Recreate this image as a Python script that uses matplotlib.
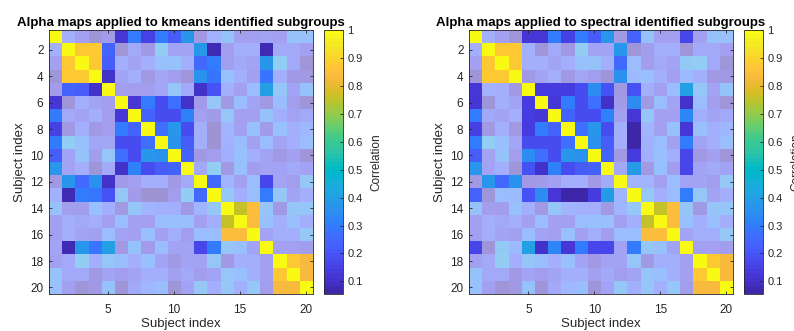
import numpy as np
import matplotlib
matplotlib.use("Agg")
import matplotlib.pyplot as plt
from matplotlib.colors import ListedColormap, Normalize
from matplotlib.cm import ScalarMappable

plt.rcParams['font.family'] = ['Liberation Sans', 'DejaVu Sans']

# MATLAB parula (64 entries)
PARULA = [
    [0.2422, 0.1504, 0.6603], [0.2504, 0.1650, 0.7076], [0.2578, 0.1818, 0.7511], [0.2647, 0.1978, 0.7952],
    [0.2706, 0.2147, 0.8364], [0.2751, 0.2342, 0.8710], [0.2783, 0.2559, 0.8991], [0.2803, 0.2782, 0.9221],
    [0.2813, 0.3006, 0.9414], [0.2810, 0.3228, 0.9579], [0.2795, 0.3447, 0.9717], [0.2760, 0.3667, 0.9829],
    [0.2699, 0.3892, 0.9906], [0.2602, 0.4123, 0.9952], [0.2440, 0.4358, 0.9988], [0.2206, 0.4603, 0.9973],
    [0.1963, 0.4847, 0.9892], [0.1834, 0.5074, 0.9798], [0.1786, 0.5289, 0.9682], [0.1764, 0.5499, 0.9520],
    [0.1687, 0.5703, 0.9359], [0.1540, 0.5902, 0.9218], [0.1460, 0.6091, 0.9079], [0.1380, 0.6276, 0.8973],
    [0.1248, 0.6459, 0.8883], [0.1113, 0.6635, 0.8763], [0.0952, 0.6798, 0.8598], [0.0689, 0.6948, 0.8394],
    [0.0297, 0.7082, 0.8163], [0.0036, 0.7203, 0.7917], [0.0067, 0.7312, 0.7660], [0.0433, 0.7411, 0.7394],
    [0.0964, 0.7500, 0.7120], [0.1408, 0.7584, 0.6842], [0.1717, 0.7670, 0.6554], [0.1938, 0.7758, 0.6251],
    [0.2161, 0.7843, 0.5923], [0.2470, 0.7918, 0.5567], [0.2906, 0.7973, 0.5188], [0.3406, 0.8008, 0.4789],
    [0.3909, 0.8029, 0.4354], [0.4456, 0.8024, 0.3909], [0.5044, 0.7993, 0.3480], [0.5616, 0.7942, 0.3045],
    [0.6174, 0.7876, 0.2612], [0.6720, 0.7793, 0.2227], [0.7242, 0.7698, 0.1910], [0.7738, 0.7598, 0.1646],
    [0.8203, 0.7498, 0.1535], [0.8634, 0.7406, 0.1596], [0.9035, 0.7330, 0.1774], [0.9393, 0.7288, 0.2100],
    [0.9728, 0.7298, 0.2394], [0.9956, 0.7434, 0.2371], [0.9970, 0.7659, 0.2199], [0.9952, 0.7893, 0.2028],
    [0.9892, 0.8136, 0.1885], [0.9786, 0.8386, 0.1766], [0.9676, 0.8639, 0.1643], [0.9610, 0.8890, 0.1537],
    [0.9597, 0.9135, 0.1423], [0.9628, 0.9373, 0.1265], [0.9691, 0.9606, 0.1064], [0.9769, 0.9839, 0.0805],
]
parula = ListedColormap(PARULA, name='parula')

# Correlation matrix between subjects (rows = subjects 1..20)
corr = [
    [1.00, .22, .15, .07, .12, .12, .30, .15, .30, .23, .37, .10, .24, .33, .15, .15, .17, .15, .33, .32],
    [.22, 1.00, .87, .87, .24, .08, .20, .10, .38, .17, .17, .37, .08, .13, .22, .22, .08, .20, .20, .15],
    [.15, .87, 1.00, .87, .23, .23, .17, .22, .32, .33, .22, .25, .30, .13, .20, .17, .37, .38, .20, .07],
    [.07, .87, .87, 1.00, .10, .17, .23, .10, .18, .13, .08, .36, .29, .32, .22, .15, .28, .22, .10, .10],
    [.12, .24, .23, .10, 1.00, .13, .13, .13, .18, .34, .20, .10, .20, .22, .15, .30, .40, .35, .17, .33],
    [.12, .08, .23, .17, .13, 1.00, .12, .30, .18, .27, .10, .12, .35, .10, .30, .17, .10, .30, .13, .08],
    [.30, .20, .17, .23, .13, .12, 1.00, .24, .18, .18, .32, .15, .12, .35, .15, .15, .33, .22, .17, .20],
    [.15, .10, .22, .10, .13, .30, .24, 1.00, .27, .37, .18, .22, .055, .25, .15, .32, .12, .32, .22, .27],
    [.30, .38, .32, .18, .18, .18, .18, .27, 1.00, .36, .23, .23, .055, .24, .30, .15, .30, .17, .22, .30],
    [.23, .17, .33, .13, .34, .27, .18, .37, .36, 1.00, .24, .10, .13, .22, .32, .22, .16, .10, .15, .08],
    [.37, .17, .22, .08, .20, .10, .32, .18, .23, .24, 1.00, .20, .38, .10, .32, .13, .16, .17, .20, .17],
    [.10, .37, .25, .36, .10, .12, .15, .22, .23, .10, .20, 1.00, .25, .25, .15, .30, .16, .17, .13, .36],
    [.24, .08, .30, .29, .20, .35, .12, .055, .055, .13, .38, .25, 1.00, .36, .22, .30, .30, .35, .17, .23],
    [.33, .13, .13, .32, .22, .10, .35, .25, .24, .22, .10, .25, .36, 1.00, .75, .85, .35, .10, .35, .35],
    [.15, .22, .20, .22, .15, .30, .15, .15, .30, .32, .32, .15, .22, .75, 1.00, .85, .32, .23, .32, .22],
    [.15, .22, .17, .15, .30, .17, .15, .32, .15, .22, .13, .30, .30, .85, .85, 1.00, .17, .22, .22, .36],
    [.17, .08, .37, .28, .40, .10, .33, .12, .30, .16, .16, .16, .30, .35, .32, .17, 1.00, .15, .15, .13],
    [.15, .20, .38, .22, .35, .30, .22, .32, .17, .10, .17, .17, .35, .10, .23, .22, .15, 1.00, .88, .83],
    [.33, .20, .20, .10, .17, .13, .17, .22, .22, .15, .20, .13, .17, .35, .32, .22, .15, .88, 1.00, .83],
    [.32, .15, .07, .10, .33, .08, .20, .27, .30, .08, .17, .36, .23, .35, .22, .36, .13, .83, .83, 1.00],
]

# Subgroup labels per subject
kmeans_groups = ['A', 'B', 'B', 'B', 'B', 'A', 'A', 'A', 'A', 'A',
                 'A', 'B', 'B', 'C', 'C', 'C', 'B', 'D', 'D', 'D']
spectral_groups = ['A', 'B', 'B', 'B', 'A', 'A', 'A', 'A', 'A', 'A',
                   'A', 'B', 'A', 'C', 'C', 'C', 'A', 'D', 'D', 'D']

titles = ['Alpha maps applied to kmeans identified subgroups',
          'Alpha maps applied to spectral identified subgroups']
cbar_ticks = [0.1, 0.2, 0.3, 0.4, 0.5, 0.6, 0.7, 0.8, 0.9, 1]
cbar_labels = ['0.1', '0.2', '0.3', '0.4', '0.5', '0.6', '0.7', '0.8', '0.9', '1']
x_ticks = [5, 10, 15, 20]
y_ticks = [2, 4, 6, 8, 10, 12, 14, 16, 18, 20]

VMIN, VMAX = 0.055, 1.0
OUT_ALPHA = 0.5
TXT = '#262626'

C = np.array(corr)
n = C.shape[0]

fig = plt.figure(figsize=(7.94, 3.31), dpi=100)
W, H = 794, 331
def rect(x0, y0, x1, y1):
    return [x0 / W, 1 - y1 / H, (x1 - x0) / W, (y1 - y0) / H]

layouts = [
    (rect(49, 30, 312.5, 294), rect(324, 30, 343, 294)),
    (rect(469, 30, 733, 294), rect(744, 30, 763, 294)),
]
norm = Normalize(VMIN, VMAX)

for (axr, cbr), groups, title in zip(layouts, [kmeans_groups, spectral_groups], titles):
    g = np.array(groups)
    alpha = np.where(g[:, None] == g[None, :], 1.0, OUT_ALPHA)
    ax = fig.add_axes(axr)
    ax.imshow(C, cmap=parula, norm=norm, alpha=alpha, interpolation='nearest',
              extent=(0.5, n + 0.5, n + 0.5, 0.5), aspect='auto')
    ax.set_xticks(x_ticks)
    ax.set_yticks(y_ticks)
    ax.tick_params(direction='in', length=2.5, width=0.6, colors=TXT, labelsize=8.5,
                   top=True, right=True)
    ax.tick_params(axis='x', pad=7)
    ax.tick_params(axis='y', pad=4)
    for s in ax.spines.values():
        s.set_color(TXT)
        s.set_linewidth(0.6)
    ax.set_xlabel('Subject index', fontsize=9.5, color=TXT, labelpad=2)
    ax.set_ylabel('Subject index', fontsize=9.5, color=TXT, labelpad=3)
    ax.set_title(title, fontsize=9.5, fontweight='bold', color='black', pad=3)

    cax = fig.add_axes(cbr)
    sm = ScalarMappable(norm=norm, cmap=parula)
    cb = fig.colorbar(sm, cax=cax, ticks=cbar_ticks)
    cb.ax.set_yticklabels(cbar_labels)
    cb.ax.tick_params(direction='in', length=2.5, width=0.6, colors=TXT, labelsize=8, pad=3)
    cb.outline.set_edgecolor(TXT)
    cb.outline.set_linewidth(0.6)
    cb.set_label('Correlation', fontsize=8.5, color=TXT, labelpad=6)

fig.savefig('out.png', dpi=100, facecolor='white')
